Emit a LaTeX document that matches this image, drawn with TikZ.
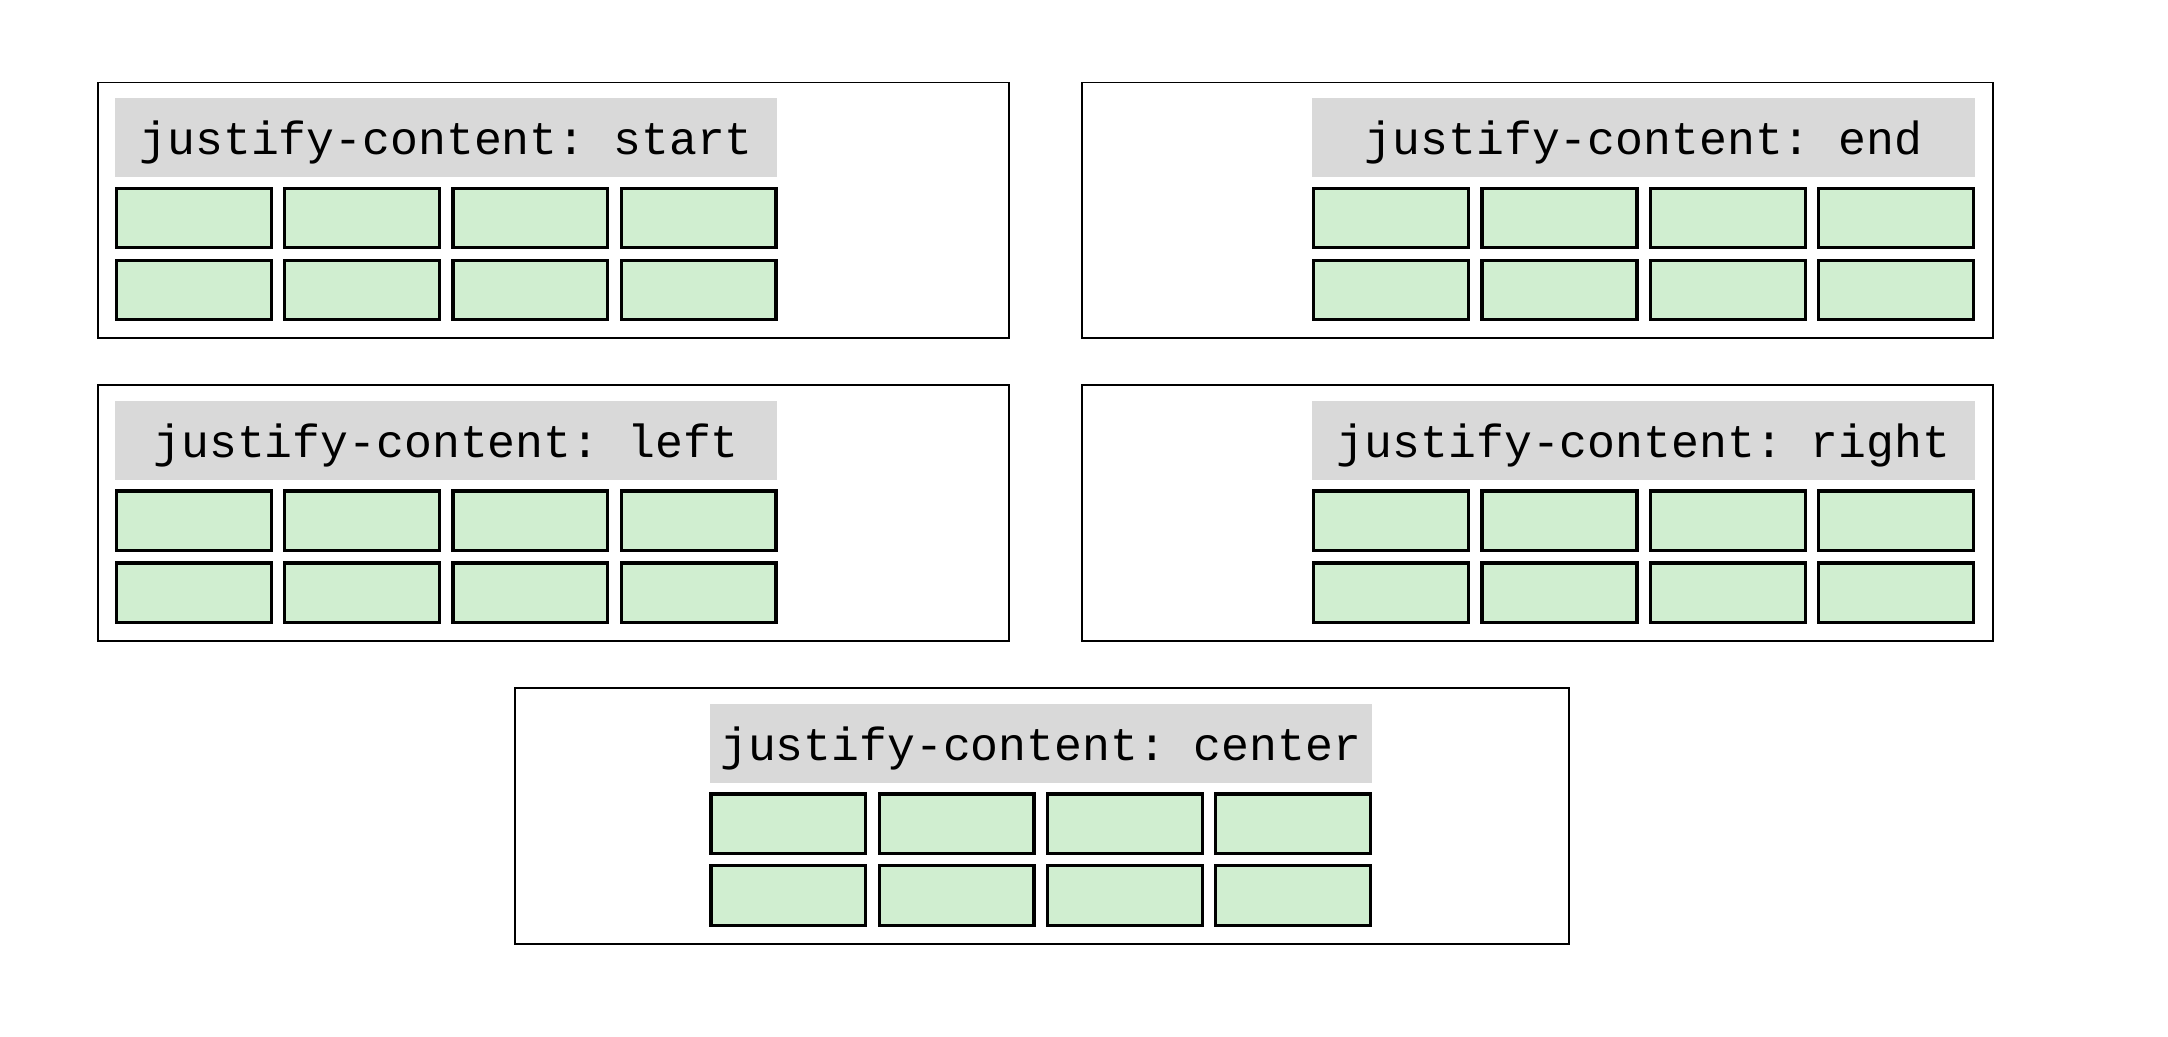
\documentclass[tikz,border=0pt]{standalone}
\usepackage{fontspec}
\setmonofont{Liberation Mono}
\definecolor{lblgray}{HTML}{D9D9D9}
\definecolor{itemgreen}{HTML}{D0EED0}
\begin{document}
\begin{tikzpicture}[x=1pt, y=-1pt,
    container/.style={draw, line width=1.3pt, minimum height=185pt, inner sep=0pt, anchor=north west},
    caption/.style={fill=lblgray, minimum width=479pt, minimum height=57pt, inner sep=0pt,
      text depth=0pt, anchor=north west, font=\ttfamily\fontsize{33.6}{40}\selectfont},
    item/.style={draw, fill=itemgreen, line width=2.4pt, minimum width=112pt, minimum height=43pt,
      inner sep=0pt, anchor=north west}]
    \useasboundingbox (0,0) rectangle (1568,750);
    \foreach \nm/\bx/\by/\bw/\gx in {start/70/59/659/83, end/782/59/659/949,
        left/70/278/659/83, right/782/278/659/949, center/372/497/762/513}{
      \node[container, minimum width=\bw pt] (\nm) at (\bx,\by) {};
      \node[caption] (\nm-cap) at (\gx,\by+12) {justify-content: \nm};
      \foreach \r in {0,1}
        \foreach \c in {0,...,3}
          \node[item] (\nm-\r\c) at (\gx+\c*121.7,\by+76+\r*52) {};
    }
\end{tikzpicture}
\end{document}
